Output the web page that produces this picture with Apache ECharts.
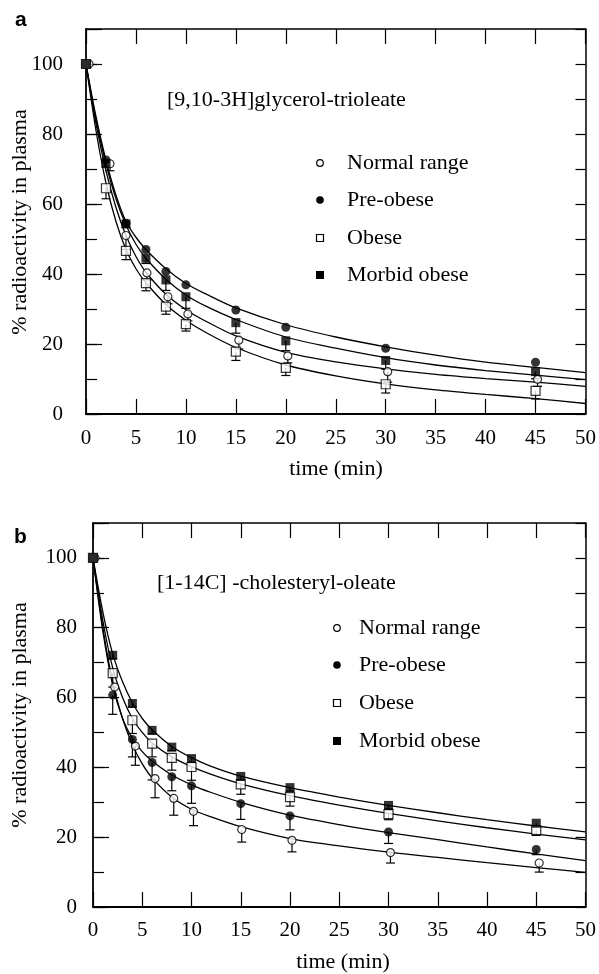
<!DOCTYPE html>
<html>
<head>
<meta charset="utf-8">
<script src="https://cdn.jsdelivr.net/npm/echarts@6/dist/echarts.min.js"></script>
<style>html,body{margin:0;padding:0;background:#fff}#c{width:599px;height:974px}</style>
</head>
<body>
<div id="c"></div>
<script>
// ---------- Data: panel a ([9,10-3H]glycerol-trioleate) ----------
const timeA = [0, 2, 4, 6, 8, 10, 15, 20, 30, 45];
const normalAx = [0.3, 2.4, 4, 6.1, 8.2, 10.2, 15.3, 20.2, 30.2, 45.2];
const normalA = [100, 71.5, 51, 40.3, 33.5, 28.6, 21.1, 16.6, 12.1, 9.9];
const normalAerr = [0, 2, 4, 2, 2, 2, 2.5, 2, 3, 2];
const preA = [100, 72.6, 54.5, 47, 40.7, 36.9, 29.7, 24.8, 18.8, 14.8];
const preAerr = [0, 0, 0, 0, 0, 0, 0, 0, 0, 0];
const obeseA = [100, 64.5, 46.6, 37.4, 30.7, 25.7, 17.8, 13.2, 8.5, 6.6];
const obeseAerr = [0, 3, 2.5, 2.2, 2.2, 2, 2.5, 2.2, 2.5, 2.3];
const morbidA = [100, 71.6, 54.3, 44.5, 38.3, 33.5, 26.1, 20.9, 15.3, 12.1];
const morbidAerr = [0, 1, 1, 1.5, 3, 3.3, 3, 2.8, 2.5, 2];

// fitted curves
const curveX = [0, 1, 2, 3, 4, 5, 6, 8, 10, 12, 15, 20, 25, 30, 35, 40, 45, 50];
const preAfit = [100, 85, 72.5, 62.5, 55, 50.5, 47, 41.5, 37.3, 34.3, 30.3, 25.5, 22, 19.2, 16.8, 14.8, 13.3, 11.8];
const morbidAfit = [100, 84, 71.5, 61.5, 54, 48.5, 44.5, 38.5, 34, 30.8, 27, 22, 18.8, 16.1, 14, 12.4, 11.1, 9.8];
const normalAfit = [100, 83, 69.5, 59, 51, 45, 40.5, 34.2, 29.8, 26.5, 22.3, 17.6, 14.9, 12.9, 11.3, 10.1, 9.1, 7.9];
const obeseAfit = [100, 81, 66, 55, 47, 41.5, 37.5, 31.3, 26.8, 23.3, 19, 14, 10.9, 8.6, 6.9, 5.6, 4.4, 3.0];

// ---------- Data: panel b ([1-14C] -cholesteryl-oleate) ----------
const timeB = [0, 2, 4, 6, 8, 10, 15, 20, 30, 45];
const normalBx = [0.2, 2.2, 4.3, 6.3, 8.2, 10.2, 15.1, 20.2, 30.2, 45.3];
const normalB = [100, 63, 46.1, 36.8, 31.1, 27.4, 22.2, 19.1, 15.6, 12.6];
const normalBerr = [0, 3, 5.5, 5.5, 4.8, 4.1, 3.6, 3.3, 3, 2.6];
const preB = [100, 60.7, 48, 41.4, 37.3, 34.7, 29.6, 26.1, 21.5, 16.5];
const preBerr = [0, 5.5, 5, 5, 4, 5, 4.5, 4, 3.3, 1.5];
const obeseB = [100, 67, 53.5, 46.8, 42.7, 40.1, 35.1, 31.5, 26.6, 22];
const obeseBerr = [0, 4, 3.8, 3.8, 3.5, 3.8, 2.8, 2.6, 1.6, 1.5];
const morbidB = [100, 72.1, 58.3, 50.6, 45.8, 42.5, 37.4, 34.2, 29.1, 24];
const morbidBerr = [0, 1, 1, 1, 1, 1, 1, 1, 1, 1];

const morbidBfit = [100, 84.5, 72.5, 64.5, 58.5, 54, 50.8, 46, 42.8, 40.3, 37.5, 34.2, 31.5, 29.1, 27, 25, 23.2, 21.5];
const obeseBfit = [100, 82, 68.5, 60, 54, 50, 47, 43, 40.2, 38, 35.3, 31.9, 29.2, 26.8, 24.7, 22.7, 20.9, 19.2];
const preBfit = [100, 79, 63.5, 54, 48.3, 44.5, 41.8, 37.8, 35, 32.8, 30, 26.3, 23.6, 21.3, 19.3, 17.2, 15.2, 13.3];
const normalBfit = [100, 80, 64.5, 54, 46.5, 41, 37, 31.5, 28, 25.8, 23, 19.6, 17.5, 15.7, 14.2, 12.7, 11.3, 9.9];

const xTicks = [0, 5, 10, 15, 20, 25, 30, 35, 40, 45, 50];
const yTicks = [0, 20, 40, 60, 80, 100];

const groupNames = ['Normal range', 'Pre-obese', 'Obese', 'Morbid obese'];
const panelTitles = ['[9,10-3H]glycerol-trioleate', '[1-14C] -cholesteryl-oleate'];
const yName = '% radioactivity in plasma';
const xName = 'time (min)';

// ---------- styling ----------
const SERIF = '"Liberation Serif", "Times New Roman", serif';
const BLACK = '#000';

const markerStyle = {
  'Normal range': {symbol: 'circle', size: 8, itemStyle: {color: '#fff', borderColor: BLACK, borderWidth: 1.2}},
  'Pre-obese': {symbol: 'circle', size: 9, itemStyle: {color: BLACK, borderColor: BLACK, borderWidth: 0}},
  'Obese': {symbol: 'rect', size: 9, itemStyle: {color: '#fff', borderColor: BLACK, borderWidth: 1.2}},
  'Morbid obese': {symbol: 'rect', size: 9, itemStyle: {color: BLACK, borderColor: BLACK, borderWidth: 0}}
};

function zip(xs, ys) { return xs.map((x, i) => [x, ys[i]]); }
function zip3(xs, ys, es) { return xs.map((x, i) => [x, ys[i], es[i]]); }

function errRender(params, api) {
  const x = api.value(0), y = api.value(1), e = api.value(2);
  if (!e) return null;
  const p0 = api.coord([x, y]);
  const p1 = api.coord([x, y - e]);
  const st = {stroke: BLACK, lineWidth: 1.2};
  return {type: 'group', children: [
    {type: 'line', shape: {x1: p0[0], y1: p0[1], x2: p1[0], y2: p1[1]}, style: st},
    {type: 'line', shape: {x1: p1[0] - 4.5, y1: p1[1], x2: p1[0] + 4.5, y2: p1[1]}, style: st}
  ]};
}

const grids = [
  {left: 86, top: 29, width: 500, height: 385},
  {left: 93, top: 523, width: 500, height: 384}
];

const xAxes = [], yAxes = [];
const labelMargins = [{x: 14, y: 23}, {x: 13, y: 16}];
grids.forEach((g, gi) => {
  const base = {type: 'value', gridIndex: gi, min: 0, max: 50, interval: 5, splitLine: {show: false}};
  xAxes.push(Object.assign({}, base, {
    position: 'bottom',
    axisLine: {show: true, onZero: false, lineStyle: {color: BLACK, width: 1.8}},
    axisTick: {show: true, inside: true, length: 15, lineStyle: {color: BLACK, width: 1.2}},
    axisLabel: {show: true, margin: labelMargins[gi].x, color: BLACK, fontFamily: SERIF, fontSize: 21,
      formatter: v => xTicks.indexOf(v) >= 0 ? String(v) : ''}
  }));
  xAxes.push(Object.assign({}, base, {
    position: 'top',
    axisLine: {show: true, onZero: false, lineStyle: {color: BLACK, width: 1.5}},
    axisTick: {show: true, inside: true, length: 15, lineStyle: {color: BLACK, width: 1.2}},
    axisLabel: {show: false}
  }));
  const yb = {type: 'value', gridIndex: gi, min: 0, max: 110, splitLine: {show: false}};
  yAxes.push(Object.assign({}, yb, {
    position: 'left', interval: 20,
    axisLine: {show: true, onZero: false, lineStyle: {color: BLACK, width: 1.8}},
    axisTick: {show: true, inside: true, length: 16, lineStyle: {color: BLACK, width: 1.2}},
    axisLabel: {show: true, margin: labelMargins[gi].y, color: BLACK, fontFamily: SERIF, fontSize: 21,
      formatter: v => yTicks.indexOf(v) >= 0 ? String(v) : ''}
  }));
  yAxes.push(Object.assign({}, yb, {
    position: 'left', interval: 10,
    axisLine: {show: false, onZero: false},
    axisTick: {show: true, inside: true, length: 11, lineStyle: {color: BLACK, width: 1.2}},
    axisLabel: {show: false}
  }));
  yAxes.push(Object.assign({}, yb, {
    position: 'right', interval: 10,
    axisLine: {show: true, onZero: false, lineStyle: {color: BLACK, width: 1.5}},
    axisTick: {show: true, inside: true, length: 10, lineStyle: {color: BLACK, width: 1.2}},
    axisLabel: {show: false}
  }));
});

const panels = [
  {xi: 0, yi: 0, groups: [
    {name: 'Normal range', x: normalAx, y: normalA, e: normalAerr, fit: normalAfit},
    {name: 'Pre-obese', x: timeA, y: preA, e: preAerr, fit: preAfit},
    {name: 'Obese', x: timeA, y: obeseA, e: obeseAerr, fit: obeseAfit},
    {name: 'Morbid obese', x: timeA, y: morbidA, e: morbidAerr, fit: morbidAfit}
  ]},
  {xi: 2, yi: 3, groups: [
    {name: 'Normal range', x: normalBx, y: normalB, e: normalBerr, fit: normalBfit},
    {name: 'Pre-obese', x: timeB, y: preB, e: preBerr, fit: preBfit},
    {name: 'Obese', x: timeB, y: obeseB, e: obeseBerr, fit: obeseBfit},
    {name: 'Morbid obese', x: timeB, y: morbidB, e: morbidBerr, fit: morbidBfit}
  ]}
];

const series = [];
panels.forEach(p => {
  p.groups.forEach(g => {
    series.push({type: 'line', name: g.name + ' fit', xAxisIndex: p.xi, yAxisIndex: p.yi,
      data: zip(curveX, g.fit), smooth: 0.3, showSymbol: false, symbol: 'none', silent: true,
      lineStyle: {color: BLACK, width: 1.3}, z: 2});
  });
  p.groups.forEach(g => {
    series.push({type: 'custom', name: g.name + ' err', xAxisIndex: p.xi, yAxisIndex: p.yi,
      data: zip3(g.x, g.y, g.e), renderItem: errRender, silent: true, z: 3,
      encode: {x: 0, y: 1}});
  });
  p.groups.forEach(g => {
    const m = markerStyle[g.name];
    series.push({type: 'scatter', name: g.name, xAxisIndex: p.xi, yAxisIndex: p.yi,
      data: zip(g.x, g.y), symbol: m.symbol, symbolSize: m.size, itemStyle: m.itemStyle, z: 4, silent: true});
  });
});

// ---------- text / legend graphics ----------
const graphic = [];
function txt(text, x, y, opts) {
  graphic.push(Object.assign({type: 'text', x: x, y: y,
    style: Object.assign({text: text, fill: BLACK, font: '22px ' + SERIF, align: 'left', verticalAlign: 'middle'}, opts || {})}));
}
// panel letters
graphic.push({type: 'text', x: 15, y: 20, style: {text: 'a', fill: BLACK, font: 'bold 21px "Liberation Sans", Arial, sans-serif', align: 'left', verticalAlign: 'middle'}});
graphic.push({type: 'text', x: 14, y: 537, style: {text: 'b', fill: BLACK, font: 'bold 21px "Liberation Sans", Arial, sans-serif', align: 'left', verticalAlign: 'middle'}});
// titles
txt(panelTitles[0], 167, 100);
txt(panelTitles[1], 157, 583);
// axis names
txt(xName, 336, 469, {align: 'center'});
txt(xName, 343, 962, {align: 'center'});
graphic.push({type: 'text', x: 20, y: 222, rotation: Math.PI / 2,
  style: {text: yName, fill: BLACK, font: '22px ' + SERIF, align: 'center', verticalAlign: 'middle'}});
graphic.push({type: 'text', x: 20, y: 715, rotation: Math.PI / 2,
  style: {text: yName, fill: BLACK, font: '22px ' + SERIF, align: 'center', verticalAlign: 'middle'}});
// legends
const legendPos = [
  {mx: 320, tx: 347, ys: [163, 200, 238, 275]},
  {mx: 337, tx: 359, ys: [628, 665, 703, 741]}
];
legendPos.forEach(L => {
  groupNames.forEach((n, i) => {
    const y = L.ys[i];
    if (n === 'Normal range') {
      graphic.push({type: 'circle', shape: {cx: L.mx, cy: y, r: 3.3}, style: {fill: '#fff', stroke: BLACK, lineWidth: 1.2}});
    } else if (n === 'Pre-obese') {
      graphic.push({type: 'circle', shape: {cx: L.mx, cy: y, r: 3.8}, style: {fill: BLACK}});
    } else if (n === 'Obese') {
      graphic.push({type: 'rect', shape: {x: L.mx - 3.5, y: y - 3.5, width: 7, height: 7}, style: {fill: '#fff', stroke: BLACK, lineWidth: 1.2}});
    } else {
      graphic.push({type: 'rect', shape: {x: L.mx - 4, y: y - 4, width: 8, height: 8}, style: {fill: BLACK}});
    }
    txt(n, L.tx, y);
  });
});

const chart = echarts.init(document.getElementById('c'), null, {renderer: 'canvas'});
chart.setOption({
  backgroundColor: '#fff',
  animation: false,
  grid: grids,
  xAxis: xAxes,
  yAxis: yAxes,
  series: series,
  graphic: graphic
});
</script>
</body>
</html>
